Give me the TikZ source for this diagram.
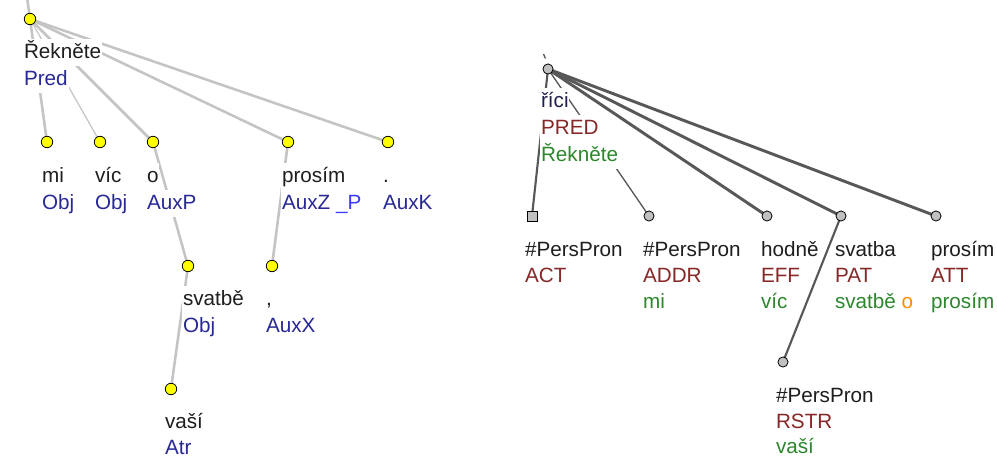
\documentclass[tikz,border=0pt]{standalone}
\usepackage{fontspec}
\setmainfont{Liberation Sans}
\usetikzlibrary{backgrounds}
\definecolor{wordc}{RGB}{30,30,30}
\definecolor{afun}{RGB}{40,40,150}
\definecolor{afunb}{RGB}{60,60,255}
\definecolor{tfun}{RGB}{135,40,40}
\definecolor{tlem}{RGB}{30,30,80}
\definecolor{tgreen}{RGB}{45,135,45}
\definecolor{torange}{RGB}{255,140,0}
\definecolor{ledge}{RGB}{196,196,196}
\definecolor{redge}{RGB}{88,88,88}
\definecolor{ycol}{RGB}{255,255,0}
\definecolor{gcol}{RGB}{192,192,192}
\tikzset{
  lbl/.style={anchor=base west, fill=white, inner xsep=0.6pt, inner ysep=0.5pt,
    text height=14.6pt, text depth=4.6pt, font=\fontsize{15.5}{18}\selectfont},
  ycirc/.style={circle, draw=black, fill=ycol, line width=0.6pt, minimum size=8.6pt, inner sep=0pt},
  gcirc/.style={circle, draw=black, fill=gcol, line width=0.6pt, minimum size=7.6pt, inner sep=0pt},
  gsq/.style={rectangle, draw=black, fill=gcol, line width=0.6pt, minimum size=7.4pt, inner sep=0pt},
  ledg/.style={draw=ledge, line width=1.9pt},
  ledgthin/.style={draw=ledge, line width=0.9pt},
  redg/.style={draw=redge, line width=2.2pt},
  redgmid/.style={draw=redge, line width=1.6pt},
  redgthin/.style={draw=redge, line width=1pt},
}
\begin{document}
\begin{tikzpicture}[x=0.75pt,y=-0.75pt]
\useasboundingbox (0,0) rectangle (997,459);

% ---------- left tree (analytical) ----------
\node[ycirc] (L0) at (30,19) {};
\node[ycirc] (Lmi) at (47,142) {};
\node[ycirc] (Lvic) at (100,142) {};
\node[ycirc] (Lo) at (153,142) {};
\node[ycirc] (Lpros) at (288,142) {};
\node[ycirc] (Ldot) at (388,142) {};
\node[ycirc] (Lsv) at (188,266) {};
\node[ycirc] (Lcom) at (272,266) {};
\node[ycirc] (Lvas) at (171,389) {};
\coordinate (Ltop) at (27,-3);

\node[lbl, text=wordc] (L0w) at (23,59) {Řekněte};
\node[lbl, text=afun] (L0f) at (23,86) {Pred};
\node[lbl, text=wordc] (Lmiw) at (41,183) {mi};
\node[lbl, text=afun] (Lmif) at (41,210) {Obj};
\node[lbl, text=wordc] (Lvicw) at (94,183) {víc};
\node[lbl, text=afun] (Lvicf) at (94,210) {Obj};
\node[lbl, text=wordc] (Low) at (146,183) {o};
\node[lbl, text=afun] (Lof) at (146,210) {AuxP};
\node[lbl, text=wordc] (Lprosw) at (281,183) {prosím};
\node[lbl, text=afun] (Lprosf) at (281,210) {AuxZ \textcolor{afunb}{\_P}};
\node[lbl, text=wordc] (Ldotw) at (382,183) {.};
\node[lbl, text=afun] (Ldotf) at (382,210) {AuxK};
\node[lbl, text=wordc] (Lsvw) at (182,306) {svatbě};
\node[lbl, text=afun] (Lsvf) at (182,333) {Obj};
\node[lbl, text=wordc] (Lcomw) at (265,306) {,};
\node[lbl, text=afun] (Lcomf) at (265,333) {AuxX};
\node[lbl, text=wordc] (Lvasw) at (164,429) {vaší};
\node[lbl, text=afun] (Lvasf) at (164,455) {Atr};

% ---------- right tree (tectogrammatical) ----------
\node[gcirc] (R0) at (548,69) {};
\node[gsq] (Ract) at (532,216) {};
\node[gcirc] (Raddr) at (649,216) {};
\node[gcirc] (Reff) at (767,216) {};
\node[gcirc] (Rpat) at (841,216) {};
\node[gcirc] (Ratt) at (936,216) {};
\node[gcirc] (Rrstr) at (783,362) {};
\coordinate (Rt1) at (543.5,54);
\coordinate (Rt2) at (545.5,58.5);

\node[lbl, text=tlem] (R0w) at (540,108) {říci};
\node[lbl, text=tfun] (R0f) at (540,135) {PRED};
\node[lbl, text=tgreen] (R0s) at (540,162) {Řekněte};

\node[lbl, text=wordc] (Ractw) at (524,257) {\#PersPron};
\node[lbl, text=tfun] (Ractf) at (524,283) {ACT};

\node[lbl, text=wordc] (Raddrw) at (642,257) {\#PersPron};
\node[lbl, text=tfun] (Raddrf) at (642,283) {ADDR};
\node[lbl, text=tgreen] (Raddrs) at (642,309) {mi};

\node[lbl, text=wordc] (Reffw) at (760,257) {hodně};
\node[lbl, text=tfun] (Refff) at (760,283) {EFF};
\node[lbl, text=tgreen] (Reffs) at (760,309) {víc};

\node[lbl, text=wordc] (Rpatw) at (834,257) {svatba};
\node[lbl, text=tfun] (Rpatf) at (834,283) {PAT};
\node[lbl, text=tgreen] (Rpats) at (834,309) {svatbě \textcolor{torange}{o}};

\node[lbl, text=wordc] (Rattw) at (930,257) {prosím};
\node[lbl, text=tfun] (Rattf) at (930,283) {ATT};
\node[lbl, text=tgreen] (Ratts) at (930,309) {prosím};

\node[lbl, text=wordc] (Rrstrw) at (775,403) {\#PersPron};
\node[lbl, text=tfun] (Rrstrf) at (775,429) {RSTR};
\node[lbl, text=tgreen] (Rrstrs) at (775,454) {vaší};

% ---------- edges behind labels ----------
\begin{pgfonlayer}{background}
  \fill[white] (0,0) rectangle (997,459);
  \draw[ledg] (Ltop) -- (L0.center);
  \draw[ledg] (L0.center) -- (Lmi.center);
  \draw[ledgthin] (L0.center) -- (Lvic.center);
  \draw[ledg] (L0.center) -- (Lo.center);
  \draw[ledg] (L0.center) -- (Lpros.center);
  \draw[ledg] (L0.center) -- (Ldot.center);
  \draw[ledg] (Lo.center) -- (Lsv.center);
  \draw[ledg] (Lpros.center) -- (Lcom.center);
  \draw[ledg] (Lsv.center) -- (Lvas.center);

  \draw[redgthin] (Rt1) -- (Rt2);
  \draw[redgmid] (R0.center) -- (Ract.center);
  \draw[redgthin] (R0.center) -- (Raddr.center);
  \draw[redg] (R0.center) -- (Reff.center);
  \draw[redg] (R0.center) -- (Rpat.center);
  \draw[redg] (R0.center) -- (Ratt.center);
  \draw[redgmid] (Rpat.center) -- (Rrstr.center);
\end{pgfonlayer}
\end{tikzpicture}
\end{document}
